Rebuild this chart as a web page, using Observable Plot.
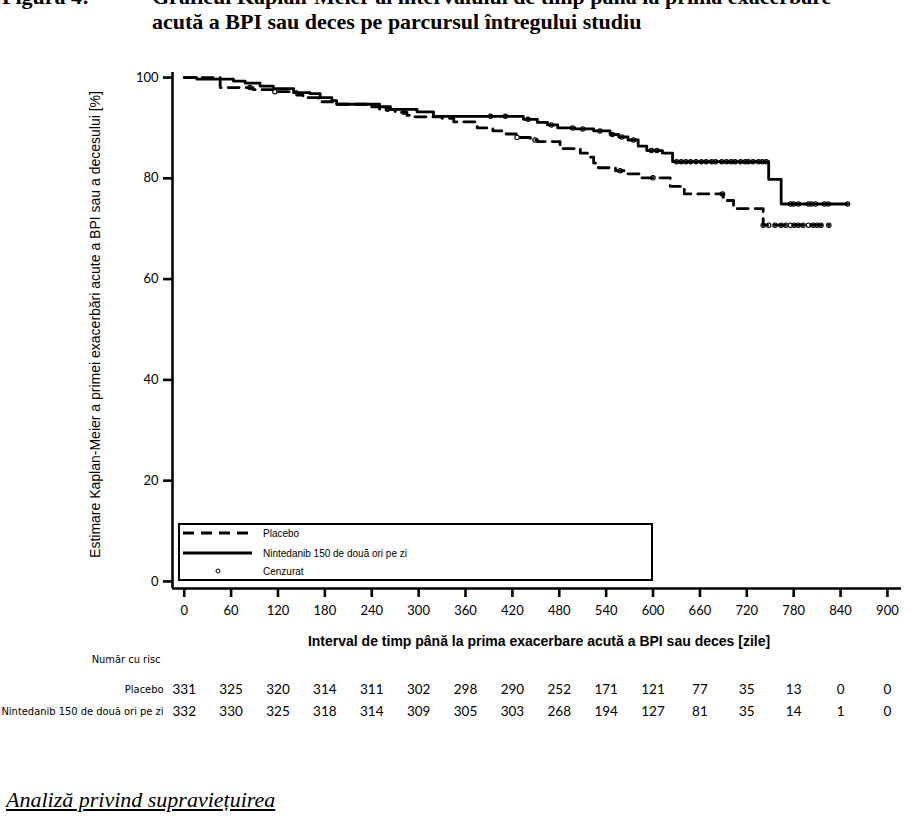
<!DOCTYPE html>
<html>
<head>
<meta charset="utf-8">
<script src="https://cdn.jsdelivr.net/npm/d3@7"></script>
<script src="https://cdn.jsdelivr.net/npm/@observablehq/plot@0.6"></script>
<style>
  html, body { margin: 0; padding: 0; background: #fff; }
  body { width: 921px; height: 821px; overflow: hidden; position: relative; font-family: "Liberation Sans", Arial, sans-serif; }
  #chart { position: absolute; left: 0; top: 0; }
  .title { position: absolute; font-family: "Liberation Serif", "Times New Roman", serif; font-weight: bold; font-size: 22px; line-height: 22px; white-space: nowrap; color: #000; }
  #legend { position: absolute; left: 178px; top: 523px; width: 471px; height: 54px; border: 2px solid #000; background: #fff; }
  #legend svg { position: absolute; left: 0; top: 0; }
  .after { position: absolute; left: 6px; top: 789px; font-family: "Liberation Serif", "Times New Roman", serif; font-style: italic; font-size: 22px; line-height: 22px; text-decoration: underline; white-space: nowrap; }
</style>
</head>
<body>
<div class="title" style="left:2px; top:-14px;">Figura 4:</div>
<div class="title" style="left:152px; top:-14px;">Graficul Kaplan-Meier al intervalului de timp până la prima exacerbare</div>
<div class="title" style="left:152px; top:11px;">acută a BPI sau deces pe parcursul întregului studiu</div>
<div id="chart"></div>
<div id="legend"></div>
<div class="after">Analiză privind supraviețuirea</div>
<script>
// Kaplan-Meier steps: day of each event and the estimate (%) right after it
const placeboDays = [0, 46, 88, 116, 144, 152, 172, 190, 250, 270, 285, 292, 330, 345, 375, 395, 412, 425, 443, 452, 481, 507, 516, 524, 530, 552, 565, 584, 622, 640, 690, 703, 741];
const placeboSurv = [100, 98.0, 97.6, 97.2, 96.5, 96.0, 95.2, 94.7, 93.7, 93.1, 92.5, 92.2, 91.9, 91.2, 90.0, 89.4, 88.8, 88.1, 87.6, 87.3, 85.9, 85.0, 84.2, 83.0, 82.1, 81.5, 80.9, 80.1, 78.4, 76.9, 75.6, 74.0, 70.7];
const placeboEnd = 825;
const placeboCensored = [84, 116, 260, 281, 426, 449, 558, 600, 689, 741, 748, 756, 764, 770, 776, 781, 786, 792, 799, 805, 810, 815, 825];

const ninDays = [0, 16, 63, 78, 97, 114, 140, 161, 174, 189, 195, 240, 264, 298, 319, 434, 452, 465, 478, 500, 524, 545, 556, 568, 581, 592, 612, 625, 748, 764];
const ninSurv = [100, 99.7, 99.3, 98.9, 98.3, 97.8, 97.0, 96.8, 96.0, 95.4, 94.7, 94.2, 93.7, 93.2, 92.3, 91.7, 91.1, 90.6, 90.0, 89.8, 89.4, 88.7, 88.2, 87.6, 86.4, 85.5, 85.0, 83.3, 79.8, 74.9];
const ninEnd = 849;
const ninCensored = [392, 411, 440, 470, 497, 510, 532, 548, 560, 575, 598, 605, 630, 636, 642, 648, 655, 662, 668, 675, 680, 688, 694, 700, 705, 712, 718, 722, 728, 735, 740, 745, 776, 780, 786, 799, 803, 808, 819, 824, 849];

// axes and the number-at-risk table
const xTicks = [0, 60, 120, 180, 240, 300, 360, 420, 480, 540, 600, 660, 720, 780, 840, 900];
const yTicks = [0, 20, 40, 60, 80, 100];
const placeboAtRisk = [331, 325, 320, 314, 311, 302, 298, 290, 252, 171, 121, 77, 35, 13, 0, 0];
const ninAtRisk = [332, 330, 325, 318, 314, 309, 305, 303, 268, 194, 127, 81, 35, 14, 1, 0];
const armNames = ["Placebo", "Nintedanib 150 de două ori pe zi"];
const censorName = "Cenzurat";
const atRiskTitle = "Număr cu risc";
const xLabel = "Interval de timp până la prima exacerbare acută a BPI sau deces [zile]";
const yLabel = "Estimare Kaplan-Meier a primei exacerbări acute a BPI sau a decesului [%]";

const xDomain = [-15, 918];
const yDomain = [-1.4, 101];

function stepRows(days, surv, end) {
  const rows = days.map((t, i) => ({t, s: surv[i]}));
  rows.push({t: end, s: surv[surv.length - 1]});
  return rows;
}
function survivalAt(days, surv, t) {
  const i = d3.bisectRight(days, t) - 1;
  return surv[Math.max(0, i)];
}
const placeboLine = stepRows(placeboDays, placeboSurv, placeboEnd);
const ninLine = stepRows(ninDays, ninSurv, ninEnd);
const censored = [
  ...placeboCensored.map(t => ({t, s: survivalAt(placeboDays, placeboSurv, t)})),
  ...ninCensored.map(t => ({t, s: survivalAt(ninDays, ninSurv, t)}))
];

const numFont = "Lato, 'Open Sans', sans-serif";
const sansFont = "'Liberation Sans', Arial, sans-serif";
const narrowFont = "'Liberation Sans Narrow', 'DejaVu Sans Condensed', 'Liberation Sans', sans-serif";

const chart = Plot.plot({
  width: 921,
  height: 821,
  marginLeft: 172,
  marginRight: 20,
  marginTop: 72,
  marginBottom: 233,
  x: {domain: xDomain, axis: null},
  y: {domain: yDomain, axis: null},
  style: {background: "transparent", color: "#000", fontFamily: sansFont, overflow: "visible"},
  marks: [
    Plot.ruleX([xDomain[0]], {stroke: "#000", strokeWidth: 2.6}),
    Plot.ruleY([yDomain[0]], {stroke: "#000", strokeWidth: 2.6}),
    Plot.axisY({ticks: yTicks, tickSize: 9, tickPadding: 5, strokeWidth: 2.6, fontSize: 13, fontFamily: numFont, label: null}),
    Plot.axisX({ticks: xTicks, tickSize: 9, tickPadding: 8, strokeWidth: 2.6, fontSize: 13, fontFamily: numFont, label: null}),
    Plot.line(placeboLine, {x: "t", y: "s", curve: "step-after", stroke: "#000", strokeWidth: 2.8, strokeDasharray: "11,7"}),
    Plot.line(ninLine, {x: "t", y: "s", curve: "step-after", stroke: "#000", strokeWidth: 2.8}),
    Plot.dot(censored, {x: "t", y: "s", r: 2.2, stroke: "#000", fill: "none", strokeWidth: 1.1}),
    Plot.text([yLabel], {frameAnchor: "left", textAnchor: "middle", lineAnchor: "middle", rotate: -90, dx: -77, dy: -6, fontSize: 14}),
    Plot.text([xLabel], {frameAnchor: "bottom", lineAnchor: "middle", dx: 2, dy: 53, fontSize: 14, fontWeight: "bold"}),
    Plot.text([atRiskTitle], {frameAnchor: "bottom-left", lineAnchor: "middle", dx: -12, dy: 71, textAnchor: "end", fontSize: 11, fontFamily: narrowFont}),
    Plot.text([armNames[0]], {frameAnchor: "bottom-left", lineAnchor: "middle", dx: -9, dy: 101, textAnchor: "end", fontSize: 11, fontFamily: narrowFont}),
    Plot.text([armNames[1]], {frameAnchor: "bottom-left", lineAnchor: "middle", dx: -9, dy: 123, textAnchor: "end", fontSize: 11, fontFamily: narrowFont}),
    Plot.text(xTicks, {x: d => d, text: (d, i) => placeboAtRisk[i], frameAnchor: "bottom", lineAnchor: "middle", dy: 101, fontSize: 13.5, fontFamily: numFont}),
    Plot.text(xTicks, {x: d => d, text: (d, i) => ninAtRisk[i], frameAnchor: "bottom", lineAnchor: "middle", dy: 123, fontSize: 13.5, fontFamily: numFont})
  ]
});
document.getElementById("chart").appendChild(chart);

// legend box
const lg = d3.select("#legend").append("svg").attr("width", 471).attr("height", 54);
const rowsY = [8, 28, 46];
lg.append("line").attr("x1", 3).attr("x2", 72).attr("y1", rowsY[0]).attr("y2", rowsY[0])
  .attr("stroke", "#000").attr("stroke-width", 2.8).attr("stroke-dasharray", "11,7");
lg.append("line").attr("x1", 3).attr("x2", 72).attr("y1", rowsY[1]).attr("y2", rowsY[1])
  .attr("stroke", "#000").attr("stroke-width", 2.8);
lg.append("circle").attr("cx", 38).attr("cy", rowsY[2]).attr("r", 2)
  .attr("stroke", "#000").attr("fill", "#fff").attr("stroke-width", 1);
[armNames[0], armNames[1], censorName].forEach((label, i) => {
  lg.append("text").attr("x", 83).attr("y", rowsY[i]).attr("dy", "0.35em")
    .attr("font-size", 10).attr("font-family", sansFont).text(label);
});
</script>
</body>
</html>
